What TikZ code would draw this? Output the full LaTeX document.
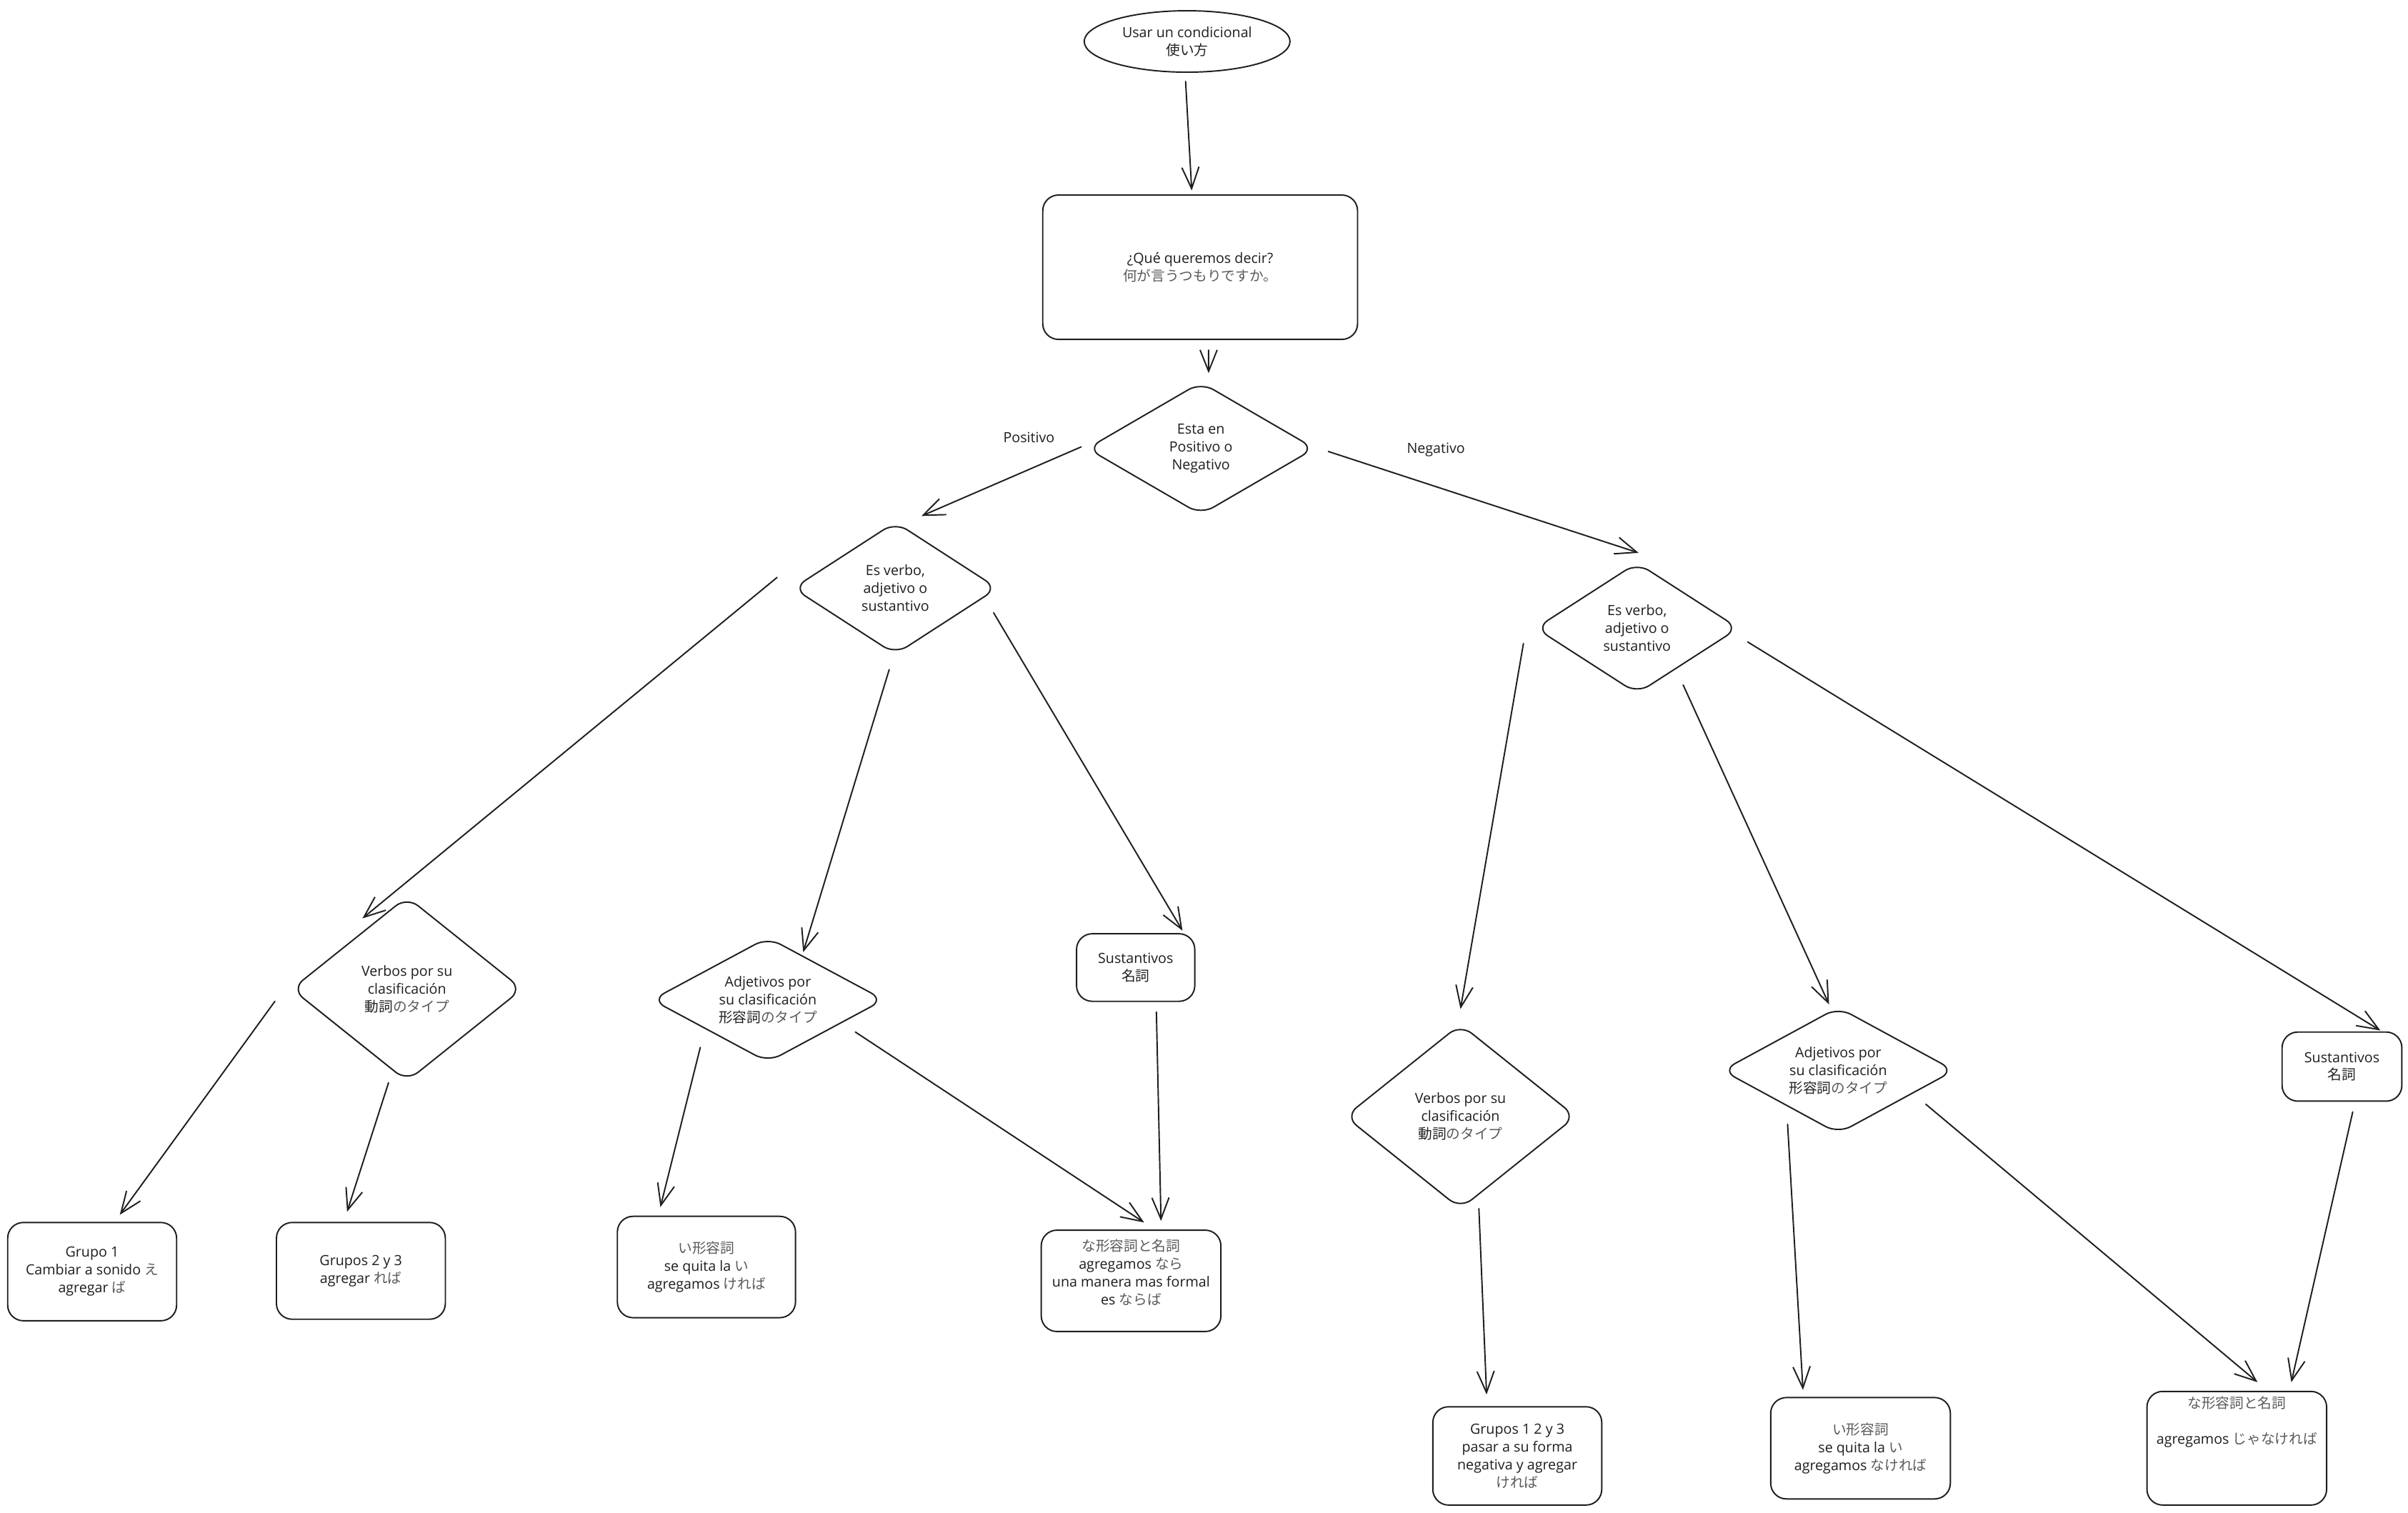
\documentclass[tikz,border=0pt]{standalone}
\usepackage{fontspec}
\setmainfont{Open Sans}
\newfontfamily\jpfont{Noto Sans CJK JP}
\usetikzlibrary{shapes.geometric,arrows.meta,calc}
\definecolor{ink}{HTML}{1E1E1E}
\definecolor{jpgray}{HTML}{5A5A5A}
\definecolor{jpdark}{HTML}{222222}
\newcommand{\pxu}{0.0215cm}
\newcommand{\jg}[1]{{\jpfont\color{jpgray}#1}}
\newcommand{\jd}[1]{{\jpfont\color{jpdark}#1}}

\begin{document}
\begin{tikzpicture}[x=0.0215cm,y=-0.0215cm,
  every node/.style={font=\fontsize{5.6}{7.1}\selectfont, text=ink, align=center, inner sep=0pt, outer sep=0pt},
  shapebase/.style={draw=ink, line width=0.55pt, fill=white, line join=round},
  oval/.style 2 args={shapebase, ellipse, minimum width=#1*\pxu, minimum height=#2*\pxu},
  rbox/.style 2 args={shapebase, rectangle, rounded corners=0.22cm, minimum width=#1*\pxu, minimum height=#2*\pxu},
  dia/.style n args={3}{shapebase, diamond, rounded corners=0.2cm, aspect=#3, minimum width=#1*\pxu, minimum height=#2*\pxu},
  arr/.style={draw=ink, line width=0.55pt, line cap=round, line join=round, -{Straight Barb[length=0.3cm,width=0.24cm]}}
]
\useasboundingbox[fill=white] (0,0) rectangle (1568,985);

% top of the flow
\node[oval={134}{40}] (A) at (773,27) {Usar un condicional\\\jd{使い方}};
\node[rbox={205}{94}] (B) at (781.5,174) {¿Qué queremos decir?\\\jg{何が言うつもりですか。}};
\node[dia={148}{86}{1.72}] (C) at (782,292) {Esta en\\Positivo o\\Negativo};

% branch labels
\node (lpos) at (670,285) {Positivo};
\node (lneg) at (935,293) {Negativo};

% second level
\node[dia={133}{86}{1.55}] (D) at (583,383) {Es verbo,\\adjetivo o\\sustantivo};
\node[dia={132}{85}{1.55}] (E) at (1066,409) {Es verbo,\\adjetivo o\\sustantivo};

% positive branch
\node[dia={150}{120}{1.25}] (F) at (265,644) {Verbos por su\\clasificación\\\jd{動詞}\jg{のタイプ}};
\node[dia={151}{81}{1.86}] (G) at (500,651) {Adjetivos por\\su clasificación\\\jd{形容詞}\jg{のタイプ}};
\node[rbox={77}{44}] (H) at (739.5,630) {Sustantivos\\\jd{名詞}};

\node[rbox={110}{64}] (L) at (60,828) {Grupo 1\\Cambiar a sonido \jg{え}\\agregar \jg{ば}};
\node[rbox={110}{63}] (M) at (235,827.5) {Grupos 2 y 3\\agregar \jg{れば}};
\node[rbox={116}{66}] (N) at (460,825) {\jg{い形容詞}\\se quita la \jg{い}\\agregamos \jg{ければ}};
\node[rbox={117}{66}] (O) at (736.5,834) {};
\node (Otext) at ($(O)+(0,-5.5)$) {\jg{な形容詞と名詞}\\agregamos \jg{なら}\\una manera mas formal\\es \jg{ならば}};

% negative branch
\node[dia={150}{120}{1.25}] (I) at (951,727) {Verbos por su\\clasificación\\\jd{動詞}\jg{のタイプ}};
\node[dia={151}{82}{1.84}] (J) at (1197,697) {Adjetivos por\\su clasificación\\\jd{形容詞}\jg{のタイプ}};
\node[rbox={78}{45}] (K) at (1525,694.5) {Sustantivos\\\jd{名詞}};

\node[rbox={110}{64}] (P) at (988,948) {Grupos 1 2 y 3\\pasar a su forma\\negativa y agregar\\\jg{ければ}};
\node[rbox={117}{66}] (Q) at (1211.5,943) {\jg{い形容詞}\\se quita la \jg{い}\\agregamos \jg{なければ}};
\node[rbox={117}{74}] (R) at (1456.5,943) {};
\node (Rtext) at ($(R)+(0,-17)$) {\jg{な形容詞と名詞}\\[0.25cm]agregamos \jg{じゃなければ}};

% connectors
\draw[arr] ($(A)+(-1,26)$) -- ($(B)+(-5.5,-50)$);
\draw[arr] ($(B)+(5.5,54)$) -- ($(C)+(5,-49)$);
\draw[arr] ($(C)+(-78,-1)$) -- ($(D)+(17,-47)$);
\draw[arr] ($(C)+(83,2)$) -- ($(E)+(1,-49)$);

\draw[arr] ($(D)+(-77,-7)$) -- ($(F)+(-29,-46)$);
\draw[arr] ($(D)+(-4,53)$) -- ($(G)+(23,-31)$);
\draw[arr] ($(D)+(64,16)$) -- ($(H)+(30.5,-24)$);

\draw[arr] ($(E)+(-74,10)$) -- ($(I)+(0,-70)$);
\draw[arr] ($(E)+(30,37)$) -- ($(J)+(-6,-43)$);
\draw[arr] ($(E)+(72,9)$) -- ($(K)+(25,-23.5)$);

\draw[arr] ($(F)+(-86,8)$) -- ($(L)+(18,-37)$);
\draw[arr] ($(F)+(-12,61)$) -- ($(M)+(-9,-38.5)$);
\draw[arr] ($(G)+(-44,31)$) -- ($(N)+(-30,-39)$);
\draw[arr] ($(G)+(57,21)$) -- ($(O)+(8.5,-38)$);
\draw[arr] ($(H)+(13.5,29)$) -- ($(O)+(19.5,-39)$);

\draw[arr] ($(I)+(12,60)$) -- ($(P)+(-20,-40)$);
\draw[arr] ($(J)+(-33,35)$) -- ($(Q)+(-37.5,-38)$);
\draw[arr] ($(J)+(57,22)$) -- ($(R)+(13.5,-43)$);
\draw[arr] ($(K)+(7,29.5)$) -- ($(R)+(35.5,-43)$);
\end{tikzpicture}
\end{document}
